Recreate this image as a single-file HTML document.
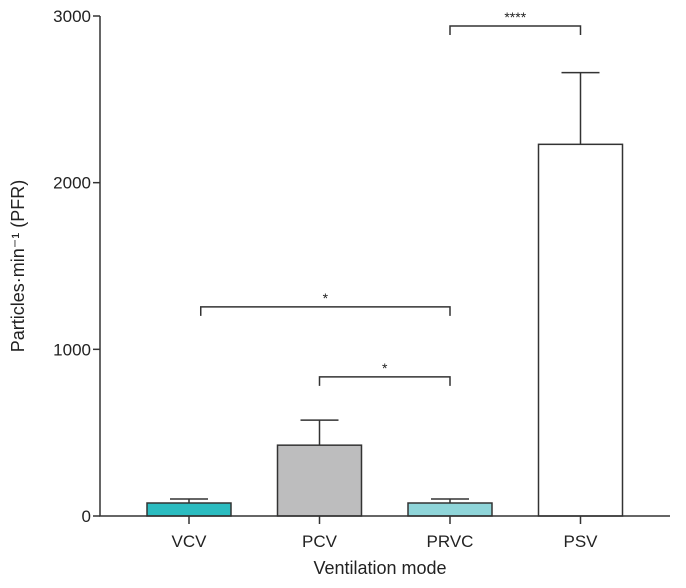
<!DOCTYPE html>
<html><head><meta charset="utf-8"><style>
body{margin:0;background:#fff}
svg text{font-family:"Liberation Sans",sans-serif;fill:#222}
</style></head><body>
<svg id="c" width="686" height="583" viewBox="0 0 686 583" xmlns="http://www.w3.org/2000/svg"></svg>
<script>
const categories=["VCV","PCV","PRVC","PSV"];
const values=[78,425,78,2230];
const errors=[102,575,102,2660];
const colors=["#2bbcc0","#bdbdbe","#8fd5d9","#ffffff"];
const yTicks=[0,1000,2000,3000];
const sigPairs=[[0.09,2],[1,2],[2,3]];
const sigLabels=["*","*","****"];
const sigValues=[1255,835,2940];

const svg=document.getElementById('c');
const NS="http://www.w3.org/2000/svg";
const x0=100,xEnd=670,y0=516,yTop=16;
const y=v=>y0-(v/3000)*(y0-yTop);
const xc=i=>189+i*130.5;
const bw=84;
function mk(t,a,p){const e=document.createElementNS(NS,t);for(const k in a)e.setAttribute(k,a[k]);(p||svg).appendChild(e);return e;}
const st={stroke:"#333","stroke-width":1.5,fill:"none"};

categories.forEach((c,i)=>{
  const cx=xc(i);
  const g=mk('g',{});
  
  
  mk('line',{x1:cx,x2:cx,y1:y(values[i]),y2:y(errors[i]),...st},g);
  mk('line',{x1:cx-19,x2:cx+19,y1:y(errors[i]),y2:y(errors[i]),...st},g);
  mk('rect',{x:cx-bw/2,y:y(values[i]),width:bw,height:y0-y(values[i]),fill:colors[i],stroke:"#333","stroke-width":1.5},g);
  mk('line',{x1:cx,x2:cx,y1:y0,y2:y0+8,...st},g);
  const t=mk('text',{x:cx,y:y0+31,"text-anchor":"middle","font-size":17});
  t.textContent=c;
  
  
});
const ax=mk('path',{d:`M${x0},${yTop}V${y0}H${xEnd}`,...st});


yTicks.forEach(v=>{
  mk('line',{x1:x0-7,x2:x0,y1:y(v),y2:y(v),...st});
  const t=mk('text',{x:x0-9,y:y(v)+6,"text-anchor":"end","font-size":17});
  t.textContent=v;
  
  
});
sigPairs.forEach((p,i)=>{
  const a=xc(p[0]),b=xc(p[1]),yy=y(sigValues[i]);
  const g=mk('g',{});
  
  
  mk('path',{d:`M${a},${yy+9}V${yy}H${b}V${yy+9}`,...st},g);
  const t=mk('text',{x:(a+b)/2,y:yy-4,"text-anchor":"middle","font-size":14},g);
  t.textContent=sigLabels[i];
});
const xt=mk('text',{x:380,y:574,"text-anchor":"middle","font-size":18});
xt.textContent="Ventilation mode";


const yt=mk('text',{x:0,y:0,"text-anchor":"middle","font-size":18,transform:"translate(24,266) rotate(-90)"});
yt.textContent="Particles·min⁻¹ (PFR)";


</script>
</body></html>
